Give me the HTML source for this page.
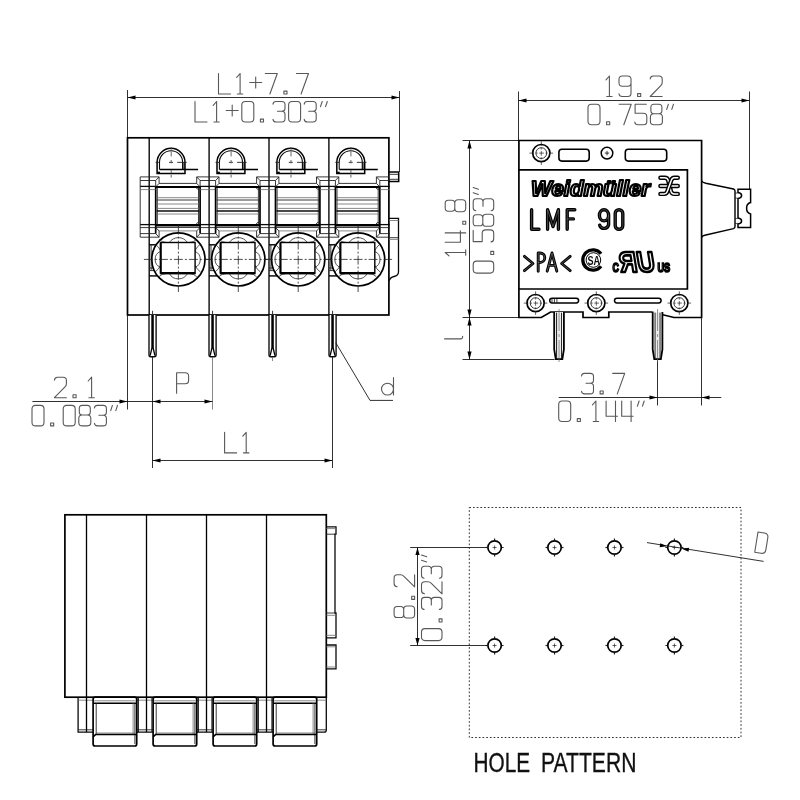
<!DOCTYPE html>
<html lang="en"><head><meta charset="utf-8"><title>LMF 90 dimensional drawing</title>
<style>
html,body{margin:0;padding:0;background:#fff;}
body{width:800px;height:800px;overflow:hidden;font-family:"Liberation Sans",sans-serif;}
svg{display:block;}
path,rect,circle,ellipse{fill:none;stroke-linecap:butt;stroke-linejoin:miter;}
.k{stroke:#000;stroke-width:1.7;}
.m{stroke:#0a0a0a;stroke-width:1.3;}
.t{stroke:#222;stroke-width:0.9;}
.g{stroke:#6a6a6a;stroke-width:0.8;}
.d{stroke:#1a1a1a;stroke-width:0.9;}
.cl{stroke:#222;stroke-width:0.8;stroke-dasharray:7 1.5 1.5 1.5;}
.dot{stroke:#333;stroke-width:1;stroke-dasharray:1.7 2;}
.tx path{stroke:#585858;stroke-width:1.1;stroke-linecap:round;stroke-linejoin:round;}
.ar{fill:#000;stroke:none;}
.ob path{stroke:#000;stroke-width:3;stroke-linecap:round;stroke-linejoin:round;}
.ow path{stroke:#fff;stroke-width:0.9;stroke-linecap:round;stroke-linejoin:round;}
.wf{fill:#fff;}
text{font-family:"Liberation Sans",sans-serif;}
svg{will-change:transform;}
</style></head>
<body>
<svg width="800" height="800" viewBox="0 0 800 800">
<g id="front-view">
<path class="d" d="M127.50,90.00L127.50,137.80"/>
<path class="d" d="M399.50,91.00L399.50,172.00"/>
<path class="d" d="M127.50,97.50L399.50,97.50"/>
<path class="ar" d="M127.50,97.50L135.50,95.40L135.50,99.60Z"/>
<path class="ar" d="M399.50,97.50L391.50,99.60L391.50,95.40Z"/>
<g class="tx" transform="translate(218.50,73.50) rotate(0.00)"><title>L1+7.7</title>
<path transform="translate(0.00,0)" d="M0,0V20.5H12"/>
<path transform="translate(15.60,0)" d="M2.6,3.8L6,0V20.5M3.3,20.5H8.7"/>
<path transform="translate(31.20,0)" d="M0,9H12M6,3.5V14.5"/>
<path transform="translate(46.80,0)" d="M0,0H12L4.6,20.5"/>
<path transform="translate(62.40,0)" d="M3,17.6h3.1v2.9h-3.1z"/>
<path transform="translate(78.00,0)" d="M0,0H12L4.6,20.5"/>
</g>
<g class="tx" transform="translate(195.00,101.50) rotate(0.00)"><title>L1+0.303&quot;</title>
<path transform="translate(0.00,0)" d="M0,0V20.5H12"/>
<path transform="translate(15.60,0)" d="M2.6,3.8L6,0V20.5M3.3,20.5H8.7"/>
<path transform="translate(31.20,0)" d="M0,9H12M6,3.5V14.5"/>
<path transform="translate(46.80,0)" d="M3.5,0H8.5Q12,0 12,3.5V17Q12,20.5 8.5,20.5H3.5Q0,20.5 0,17V3.5Q0,0 3.5,0Z"/>
<path transform="translate(62.40,0)" d="M3,17.6h3.1v2.9h-3.1z"/>
<path transform="translate(78.00,0)" d="M0,2.6Q0.3,0 3,0H8.8Q12,0 12,3V6.8Q12,9.8 8.8,9.8H4.5M8.8,9.8Q12,9.8 12,13V17.3Q12,20.5 8.8,20.5H3Q0.3,20.5 0,17.9"/>
<path transform="translate(93.60,0)" d="M3.5,0H8.5Q12,0 12,3.5V17Q12,20.5 8.5,20.5H3.5Q0,20.5 0,17V3.5Q0,0 3.5,0Z"/>
<path transform="translate(109.20,0)" d="M0,2.6Q0.3,0 3,0H8.8Q12,0 12,3V6.8Q12,9.8 8.8,9.8H4.5M8.8,9.8Q12,9.8 12,13V17.3Q12,20.5 8.8,20.5H3Q0.3,20.5 0,17.9"/>
<path transform="translate(124.80,0)" d="M2.4,0L0.7,5.2M7.5,0L5.8,5.2"/>
</g>
<rect class="k" x="127.50" y="137.80" width="261.40" height="177.20" rx="0"/>
<path class="k" style="stroke-width:1.35" d="M149.20,137.80L149.20,315.00"/>
<path class="k" style="stroke-width:1.35" d="M209.10,137.80L209.10,315.00"/>
<path class="k" style="stroke-width:1.35" d="M269.00,137.80L269.00,315.00"/>
<path class="k" style="stroke-width:1.35" d="M328.90,137.80L328.90,315.00"/>
<path class="k" style="stroke-width:1.5" d="M388.9,171.9H398.7V181.4H388.9" />
<path class="t" d="M388.90,174.30L398.20,174.30"/>
<path class="t" d="M388.90,179.30L398.20,179.30"/>
<path class="m" d="M388.9,218.3H398.5V272Q398.5,275.5 394,276.5Q390,277.5 388.9,281" />
<path class="g" d="M388.90,220.50L398.50,220.50"/>
<path class="t" d="M388.90,237.70L398.50,237.70"/>
<path class="g" d="M388.90,239.40L398.50,239.40"/>
<path class="t" d="M140.20,176.90L140.20,237.20"/>
<rect x="182.20" y="162.5" width="2.6" height="7" style="fill:#777;stroke:none"/>
<path class="k" style="stroke-width:1.5" d="M157.10,173.5V162.3A13.95,13.95 0 0 1 185.00,162.3V173.5Z" />
<path class="m" style="stroke-width:1.1" d="M159.50,169.5V162.3A11.55,11.55 0 0 1 182.60,162.3V169.5" />
<path class="k" style="stroke-width:2.2" d="M157.40,172.80L160.00,172.80"/>
<path class="k" style="stroke-width:1.4" d="M159.60,169.50L198.10,169.50"/>
<path class="cl" style="stroke-dasharray:4.2 9.2 4 4.2 9.4 0;stroke-width:0.9" d="M155.60,162.35L186.80,162.35"/>
<path class="cl" style="stroke-dasharray:2.8 1.6 5 3.6 3.4 6.6 3.4 1.2 3 0;stroke:#555;stroke-width:0.9" d="M171.20,147.00L171.20,177.60"/>
<path class="k" d="M155.70,186.90L155.70,233.60"/>
<path class="k" d="M200.10,186.90L200.10,233.60"/>
<path class="t" d="M155.70,180.50L155.70,186.90"/>
<path class="t" d="M200.10,180.50L200.10,186.90"/>
<path class="k" style="stroke-width:2" d="M155.70,186.90L200.10,186.90"/>
<path class="k" style="stroke-width:2" d="M155.70,225.00L200.10,225.00"/>
<path class="m" d="M155.70,227.20L200.10,227.20"/>
<path class="t" d="M159.10,183.40L196.70,183.40"/>
<path class="t" d="M155.70,180.5L159.10,176.9V183.4L155.70,186.9" />
<path class="t" d="M200.10,180.5L196.70,176.9V183.4L200.10,186.9" />
<path class="g" d="M159.10,230.90L196.70,230.90"/>
<path class="t" d="M155.70,233.6L159.10,237.2V231L155.70,227.4" />
<path class="t" d="M200.10,233.6L196.70,237.2V231L200.10,227.4" />
<path class="t" d="M200.10,180.50L215.60,180.50"/>
<path class="m" d="M200.10,186.40L215.60,186.40"/>
<path class="g" d="M200.10,189.60L215.60,189.60"/>
<path class="m" d="M200.10,224.60L215.60,224.60"/>
<path class="t" d="M200.10,227.60L215.60,227.60"/>
<path class="t" d="M200.10,233.60L215.60,233.60"/>
<path class="t" d="M196.70,176.90L219.00,176.90"/>
<path class="t" d="M196.70,237.20L219.00,237.20"/>
<path class="t" d="M140.20,180.50L155.70,180.50"/>
<path class="m" d="M140.20,186.40L155.70,186.40"/>
<path class="g" d="M140.20,189.60L155.70,189.60"/>
<path class="m" d="M140.20,224.60L155.70,224.60"/>
<path class="t" d="M140.20,227.60L155.70,227.60"/>
<path class="t" d="M140.20,233.60L155.70,233.60"/>
<path class="t" d="M140.20,176.90L159.10,176.90"/>
<path class="t" d="M140.20,237.20L159.10,237.20"/>
<path class="t" d="M157.30,187.50L157.30,224.50"/>
<path class="t" d="M198.50,187.50L198.50,224.50"/>
<path class="g" d="M156.70,197.70L199.10,197.70"/>
<path class="t" d="M156.70,200.00L199.10,200.00"/>
<path class="g" d="M156.70,204.00L199.10,204.00"/>
<path class="g" d="M156.70,208.40L199.10,208.40"/>
<path class="m" d="M156.70,211.00L199.10,211.00"/>
<path class="g" d="M156.70,214.00L199.10,214.00"/>
<path class="t" d="M196.10,187.6L197.50,189.2H199.30" />
<path class="t" d="M196.10,224.4L197.50,222.6H199.30" />
<path class="k" style="stroke-width:1.4" d="M149.20,244.80L155.70,244.80"/>
<path class="t" d="M151.10,244.80L151.10,270.50"/>
<path class="t" d="M149.20,268.00L154.20,268.00"/>
<path class="t" d="M149.20,270.60L155.20,270.60"/>
<path class="k" style="stroke-width:1.4" d="M149.20,275.90L157.54,275.90"/>
<circle class="k wf" cx="178.40" cy="259.4" r="26.6"/>
<path class="t" style="stroke-width:0.8;stroke:#2a2a2a" d="M169.30,242.50A10.90,10.90 0 0 1 187.50,242.50" />
<path class="t" style="stroke-width:0.8;stroke:#2a2a2a" d="M169.30,273.50A10.37,10.37 0 0 0 187.50,273.50" />
<path class="t" style="stroke-width:0.8;stroke:#2a2a2a" d="M160.50,251.40A8.63,8.63 0 0 0 160.50,267.40" />
<path class="t" style="stroke-width:0.8;stroke:#2a2a2a" d="M195.10,251.40A8.75,8.75 0 0 1 195.10,267.40" />
<path class="t" style="stroke-width:0.8;stroke:#2a2a2a" d="M158.90,239.30Q162.00,242.50 166.50,242.50M155.10,244.00Q159.00,247.00 160.50,250.50" />
<path class="t" style="stroke-width:0.8;stroke:#2a2a2a" d="M158.90,276.70Q162.00,273.50 166.50,273.50M155.10,272.00Q159.00,269.00 160.50,265.50" />
<path class="t" style="stroke-width:0.8;stroke:#2a2a2a" d="M196.70,239.30Q193.60,242.50 189.10,242.50M200.50,244.00Q196.60,247.00 195.10,250.50" />
<path class="t" style="stroke-width:0.8;stroke:#2a2a2a" d="M196.70,276.70Q193.60,273.50 189.10,273.50M200.50,272.00Q196.60,269.00 195.10,265.50" />
<rect class="k" style="stroke-width:1.4" x="160.50" y="242.50" width="34.60" height="31.00" rx="0"/>
<path class="k" style="stroke-width:2.2" d="M160.50,273.20L195.10,273.20"/>
<path class="k" style="stroke-width:1.9" d="M160.80,243.00L160.80,273.00"/>
<path class="cl" style="stroke-dasharray:9 2 2 2" d="M143.90,259.40L212.40,259.40"/>
<path class="cl" style="stroke-dasharray:9 2 2 2" d="M178.40,225.60L178.40,292.00"/>
<path class="wf" style="stroke:#0a0a0a;stroke-width:1.35" d="M149.00,315.0V354.8Q149.00,356.7 150.75,356.7H154.35Q156.10,356.7 156.10,354.8V315.0"/>
<path class="k" style="stroke-width:2.5" d="M152.55,315.00L152.55,348.60"/>
<path class="k" style="stroke-width:1.3" d="M151.95,348L150.15,355.6M153.15,348L154.95,355.6" />
<path class="t" d="M152.55,310.80L152.55,315.00"/>
<rect x="242.10" y="162.5" width="2.6" height="7" style="fill:#777;stroke:none"/>
<path class="k" style="stroke-width:1.5" d="M217.00,173.5V162.3A13.95,13.95 0 0 1 244.90,162.3V173.5Z" />
<path class="m" style="stroke-width:1.1" d="M219.40,169.5V162.3A11.55,11.55 0 0 1 242.50,162.3V169.5" />
<path class="k" style="stroke-width:2.2" d="M217.30,172.80L219.90,172.80"/>
<path class="k" style="stroke-width:1.4" d="M219.50,169.50L258.00,169.50"/>
<path class="cl" style="stroke-dasharray:4.2 9.2 4 4.2 9.4 0;stroke-width:0.9" d="M215.50,162.35L246.70,162.35"/>
<path class="cl" style="stroke-dasharray:2.8 1.6 5 3.6 3.4 6.6 3.4 1.2 3 0;stroke:#555;stroke-width:0.9" d="M231.10,147.00L231.10,177.60"/>
<path class="k" d="M215.60,186.90L215.60,233.60"/>
<path class="k" d="M260.00,186.90L260.00,233.60"/>
<path class="t" d="M215.60,180.50L215.60,186.90"/>
<path class="t" d="M260.00,180.50L260.00,186.90"/>
<path class="k" style="stroke-width:2" d="M215.60,186.90L260.00,186.90"/>
<path class="k" style="stroke-width:2" d="M215.60,225.00L260.00,225.00"/>
<path class="m" d="M215.60,227.20L260.00,227.20"/>
<path class="t" d="M219.00,183.40L256.60,183.40"/>
<path class="t" d="M215.60,180.5L219.00,176.9V183.4L215.60,186.9" />
<path class="t" d="M260.00,180.5L256.60,176.9V183.4L260.00,186.9" />
<path class="g" d="M219.00,230.90L256.60,230.90"/>
<path class="t" d="M215.60,233.6L219.00,237.2V231L215.60,227.4" />
<path class="t" d="M260.00,233.6L256.60,237.2V231L260.00,227.4" />
<path class="t" d="M260.00,180.50L275.50,180.50"/>
<path class="m" d="M260.00,186.40L275.50,186.40"/>
<path class="g" d="M260.00,189.60L275.50,189.60"/>
<path class="m" d="M260.00,224.60L275.50,224.60"/>
<path class="t" d="M260.00,227.60L275.50,227.60"/>
<path class="t" d="M260.00,233.60L275.50,233.60"/>
<path class="t" d="M256.60,176.90L278.90,176.90"/>
<path class="t" d="M256.60,237.20L278.90,237.20"/>
<path class="t" d="M217.20,187.50L217.20,224.50"/>
<path class="t" d="M258.40,187.50L258.40,224.50"/>
<path class="g" d="M216.60,197.70L259.00,197.70"/>
<path class="t" d="M216.60,200.00L259.00,200.00"/>
<path class="g" d="M216.60,204.00L259.00,204.00"/>
<path class="g" d="M216.60,208.40L259.00,208.40"/>
<path class="m" d="M216.60,211.00L259.00,211.00"/>
<path class="g" d="M216.60,214.00L259.00,214.00"/>
<path class="t" d="M256.00,187.6L257.40,189.2H259.20" />
<path class="t" d="M256.00,224.4L257.40,222.6H259.20" />
<path class="k" style="stroke-width:1.4" d="M209.10,244.80L215.60,244.80"/>
<path class="t" d="M211.00,244.80L211.00,270.50"/>
<path class="t" d="M209.10,268.00L214.10,268.00"/>
<path class="t" d="M209.10,270.60L215.10,270.60"/>
<path class="k" style="stroke-width:1.4" d="M209.10,275.90L217.44,275.90"/>
<circle class="k wf" cx="238.30" cy="259.4" r="26.6"/>
<path class="t" style="stroke-width:0.8;stroke:#2a2a2a" d="M229.20,242.50A10.90,10.90 0 0 1 247.40,242.50" />
<path class="t" style="stroke-width:0.8;stroke:#2a2a2a" d="M229.20,273.50A10.37,10.37 0 0 0 247.40,273.50" />
<path class="t" style="stroke-width:0.8;stroke:#2a2a2a" d="M220.40,251.40A8.63,8.63 0 0 0 220.40,267.40" />
<path class="t" style="stroke-width:0.8;stroke:#2a2a2a" d="M255.00,251.40A8.75,8.75 0 0 1 255.00,267.40" />
<path class="t" style="stroke-width:0.8;stroke:#2a2a2a" d="M218.80,239.30Q221.90,242.50 226.40,242.50M215.00,244.00Q218.90,247.00 220.40,250.50" />
<path class="t" style="stroke-width:0.8;stroke:#2a2a2a" d="M218.80,276.70Q221.90,273.50 226.40,273.50M215.00,272.00Q218.90,269.00 220.40,265.50" />
<path class="t" style="stroke-width:0.8;stroke:#2a2a2a" d="M256.60,239.30Q253.50,242.50 249.00,242.50M260.40,244.00Q256.50,247.00 255.00,250.50" />
<path class="t" style="stroke-width:0.8;stroke:#2a2a2a" d="M256.60,276.70Q253.50,273.50 249.00,273.50M260.40,272.00Q256.50,269.00 255.00,265.50" />
<rect class="k" style="stroke-width:1.4" x="220.40" y="242.50" width="34.60" height="31.00" rx="0"/>
<path class="k" style="stroke-width:2.2" d="M220.40,273.20L255.00,273.20"/>
<path class="k" style="stroke-width:1.9" d="M220.70,243.00L220.70,273.00"/>
<path class="cl" style="stroke-dasharray:9 2 2 2" d="M203.80,259.40L272.30,259.40"/>
<path class="cl" style="stroke-dasharray:9 2 2 2" d="M238.30,225.60L238.30,292.00"/>
<path class="wf" style="stroke:#0a0a0a;stroke-width:1.35" d="M209.00,315.0V354.8Q209.00,356.7 210.75,356.7H214.35Q216.10,356.7 216.10,354.8V315.0"/>
<path class="k" style="stroke-width:2.5" d="M212.55,315.00L212.55,348.60"/>
<path class="k" style="stroke-width:1.3" d="M211.95,348L210.15,355.6M213.15,348L214.95,355.6" />
<path class="t" d="M212.55,310.80L212.55,315.00"/>
<rect x="302.00" y="162.5" width="2.6" height="7" style="fill:#777;stroke:none"/>
<path class="k" style="stroke-width:1.5" d="M276.90,173.5V162.3A13.95,13.95 0 0 1 304.80,162.3V173.5Z" />
<path class="m" style="stroke-width:1.1" d="M279.30,169.5V162.3A11.55,11.55 0 0 1 302.40,162.3V169.5" />
<path class="k" style="stroke-width:2.2" d="M277.20,172.80L279.80,172.80"/>
<path class="k" style="stroke-width:1.4" d="M279.40,169.50L317.90,169.50"/>
<path class="cl" style="stroke-dasharray:4.2 9.2 4 4.2 9.4 0;stroke-width:0.9" d="M275.40,162.35L306.60,162.35"/>
<path class="cl" style="stroke-dasharray:2.8 1.6 5 3.6 3.4 6.6 3.4 1.2 3 0;stroke:#555;stroke-width:0.9" d="M291.00,147.00L291.00,177.60"/>
<path class="k" d="M275.50,186.90L275.50,233.60"/>
<path class="k" d="M319.90,186.90L319.90,233.60"/>
<path class="t" d="M275.50,180.50L275.50,186.90"/>
<path class="t" d="M319.90,180.50L319.90,186.90"/>
<path class="k" style="stroke-width:2" d="M275.50,186.90L319.90,186.90"/>
<path class="k" style="stroke-width:2" d="M275.50,225.00L319.90,225.00"/>
<path class="m" d="M275.50,227.20L319.90,227.20"/>
<path class="t" d="M278.90,183.40L316.50,183.40"/>
<path class="t" d="M275.50,180.5L278.90,176.9V183.4L275.50,186.9" />
<path class="t" d="M319.90,180.5L316.50,176.9V183.4L319.90,186.9" />
<path class="g" d="M278.90,230.90L316.50,230.90"/>
<path class="t" d="M275.50,233.6L278.90,237.2V231L275.50,227.4" />
<path class="t" d="M319.90,233.6L316.50,237.2V231L319.90,227.4" />
<path class="t" d="M319.90,180.50L335.40,180.50"/>
<path class="m" d="M319.90,186.40L335.40,186.40"/>
<path class="g" d="M319.90,189.60L335.40,189.60"/>
<path class="m" d="M319.90,224.60L335.40,224.60"/>
<path class="t" d="M319.90,227.60L335.40,227.60"/>
<path class="t" d="M319.90,233.60L335.40,233.60"/>
<path class="t" d="M316.50,176.90L338.80,176.90"/>
<path class="t" d="M316.50,237.20L338.80,237.20"/>
<path class="t" d="M277.10,187.50L277.10,224.50"/>
<path class="t" d="M318.30,187.50L318.30,224.50"/>
<path class="g" d="M276.50,197.70L318.90,197.70"/>
<path class="t" d="M276.50,200.00L318.90,200.00"/>
<path class="g" d="M276.50,204.00L318.90,204.00"/>
<path class="g" d="M276.50,208.40L318.90,208.40"/>
<path class="m" d="M276.50,211.00L318.90,211.00"/>
<path class="g" d="M276.50,214.00L318.90,214.00"/>
<path class="t" d="M315.90,187.6L317.30,189.2H319.10" />
<path class="t" d="M315.90,224.4L317.30,222.6H319.10" />
<path class="k" style="stroke-width:1.4" d="M269.00,244.80L275.50,244.80"/>
<path class="t" d="M270.90,244.80L270.90,270.50"/>
<path class="t" d="M269.00,268.00L274.00,268.00"/>
<path class="t" d="M269.00,270.60L275.00,270.60"/>
<path class="k" style="stroke-width:1.4" d="M269.00,275.90L277.34,275.90"/>
<circle class="k wf" cx="298.20" cy="259.4" r="26.6"/>
<path class="t" style="stroke-width:0.8;stroke:#2a2a2a" d="M289.10,242.50A10.90,10.90 0 0 1 307.30,242.50" />
<path class="t" style="stroke-width:0.8;stroke:#2a2a2a" d="M289.10,273.50A10.37,10.37 0 0 0 307.30,273.50" />
<path class="t" style="stroke-width:0.8;stroke:#2a2a2a" d="M280.30,251.40A8.63,8.63 0 0 0 280.30,267.40" />
<path class="t" style="stroke-width:0.8;stroke:#2a2a2a" d="M314.90,251.40A8.75,8.75 0 0 1 314.90,267.40" />
<path class="t" style="stroke-width:0.8;stroke:#2a2a2a" d="M278.70,239.30Q281.80,242.50 286.30,242.50M274.90,244.00Q278.80,247.00 280.30,250.50" />
<path class="t" style="stroke-width:0.8;stroke:#2a2a2a" d="M278.70,276.70Q281.80,273.50 286.30,273.50M274.90,272.00Q278.80,269.00 280.30,265.50" />
<path class="t" style="stroke-width:0.8;stroke:#2a2a2a" d="M316.50,239.30Q313.40,242.50 308.90,242.50M320.30,244.00Q316.40,247.00 314.90,250.50" />
<path class="t" style="stroke-width:0.8;stroke:#2a2a2a" d="M316.50,276.70Q313.40,273.50 308.90,273.50M320.30,272.00Q316.40,269.00 314.90,265.50" />
<rect class="k" style="stroke-width:1.4" x="280.30" y="242.50" width="34.60" height="31.00" rx="0"/>
<path class="k" style="stroke-width:2.2" d="M280.30,273.20L314.90,273.20"/>
<path class="k" style="stroke-width:1.9" d="M280.60,243.00L280.60,273.00"/>
<path class="cl" style="stroke-dasharray:9 2 2 2" d="M263.70,259.40L332.20,259.40"/>
<path class="cl" style="stroke-dasharray:9 2 2 2" d="M298.20,225.60L298.20,292.00"/>
<path class="wf" style="stroke:#0a0a0a;stroke-width:1.35" d="M269.00,315.0V354.8Q269.00,356.7 270.75,356.7H274.35Q276.10,356.7 276.10,354.8V315.0"/>
<path class="k" style="stroke-width:2.5" d="M272.55,315.00L272.55,348.60"/>
<path class="k" style="stroke-width:1.3" d="M271.95,348L270.15,355.6M273.15,348L274.95,355.6" />
<path class="t" d="M272.55,310.80L272.55,315.00"/>
<rect x="361.90" y="162.5" width="2.6" height="7" style="fill:#777;stroke:none"/>
<path class="k" style="stroke-width:1.5" d="M336.80,173.5V162.3A13.95,13.95 0 0 1 364.70,162.3V173.5Z" />
<path class="m" style="stroke-width:1.1" d="M339.20,169.5V162.3A11.55,11.55 0 0 1 362.30,162.3V169.5" />
<path class="k" style="stroke-width:2.2" d="M337.10,172.80L339.70,172.80"/>
<path class="k" style="stroke-width:1.4" d="M339.30,169.50L377.80,169.50"/>
<path class="cl" style="stroke-dasharray:4.2 9.2 4 4.2 9.4 0;stroke-width:0.9" d="M335.30,162.35L366.50,162.35"/>
<path class="cl" style="stroke-dasharray:2.8 1.6 5 3.6 3.4 6.6 3.4 1.2 3 0;stroke:#555;stroke-width:0.9" d="M350.90,147.00L350.90,177.60"/>
<path class="k" d="M335.40,186.90L335.40,233.60"/>
<path class="k" d="M379.80,186.90L379.80,233.60"/>
<path class="t" d="M335.40,180.50L335.40,186.90"/>
<path class="t" d="M379.80,180.50L379.80,186.90"/>
<path class="k" style="stroke-width:2" d="M335.40,186.90L379.80,186.90"/>
<path class="k" style="stroke-width:2" d="M335.40,225.00L379.80,225.00"/>
<path class="m" d="M335.40,227.20L379.80,227.20"/>
<path class="t" d="M338.80,183.40L376.40,183.40"/>
<path class="t" d="M335.40,180.5L338.80,176.9V183.4L335.40,186.9" />
<path class="t" d="M379.80,180.5L376.40,176.9V183.4L379.80,186.9" />
<path class="g" d="M338.80,230.90L376.40,230.90"/>
<path class="t" d="M335.40,233.6L338.80,237.2V231L335.40,227.4" />
<path class="t" d="M379.80,233.6L376.40,237.2V231L379.80,227.4" />
<path class="t" d="M379.80,180.50L389.80,180.50"/>
<path class="m" d="M379.80,186.40L389.80,186.40"/>
<path class="g" d="M379.80,189.60L389.80,189.60"/>
<path class="m" d="M379.80,224.60L389.80,224.60"/>
<path class="t" d="M379.80,227.60L389.80,227.60"/>
<path class="t" d="M379.80,233.60L389.80,233.60"/>
<path class="t" d="M376.40,176.90L388.90,176.90"/>
<path class="t" d="M376.40,237.20L388.90,237.20"/>
<path class="t" d="M337.00,187.50L337.00,224.50"/>
<path class="t" d="M378.20,187.50L378.20,224.50"/>
<path class="g" d="M336.40,197.70L378.80,197.70"/>
<path class="t" d="M336.40,200.00L378.80,200.00"/>
<path class="g" d="M336.40,204.00L378.80,204.00"/>
<path class="g" d="M336.40,208.40L378.80,208.40"/>
<path class="m" d="M336.40,211.00L378.80,211.00"/>
<path class="g" d="M336.40,214.00L378.80,214.00"/>
<path class="t" d="M375.80,187.6L377.20,189.2H379.00" />
<path class="t" d="M375.80,224.4L377.20,222.6H379.00" />
<path class="k" style="stroke-width:1.4" d="M328.90,244.80L335.40,244.80"/>
<path class="t" d="M330.80,244.80L330.80,270.50"/>
<path class="t" d="M328.90,268.00L333.90,268.00"/>
<path class="t" d="M328.90,270.60L334.90,270.60"/>
<path class="k" style="stroke-width:1.4" d="M328.90,275.90L337.24,275.90"/>
<circle class="k wf" cx="358.10" cy="259.4" r="26.6"/>
<path class="t" style="stroke-width:0.8;stroke:#2a2a2a" d="M349.00,242.50A10.90,10.90 0 0 1 367.20,242.50" />
<path class="t" style="stroke-width:0.8;stroke:#2a2a2a" d="M349.00,273.50A10.37,10.37 0 0 0 367.20,273.50" />
<path class="t" style="stroke-width:0.8;stroke:#2a2a2a" d="M340.20,251.40A8.63,8.63 0 0 0 340.20,267.40" />
<path class="t" style="stroke-width:0.8;stroke:#2a2a2a" d="M374.80,251.40A8.75,8.75 0 0 1 374.80,267.40" />
<path class="t" style="stroke-width:0.8;stroke:#2a2a2a" d="M338.60,239.30Q341.70,242.50 346.20,242.50M334.80,244.00Q338.70,247.00 340.20,250.50" />
<path class="t" style="stroke-width:0.8;stroke:#2a2a2a" d="M338.60,276.70Q341.70,273.50 346.20,273.50M334.80,272.00Q338.70,269.00 340.20,265.50" />
<path class="t" style="stroke-width:0.8;stroke:#2a2a2a" d="M376.40,239.30Q373.30,242.50 368.80,242.50M380.20,244.00Q376.30,247.00 374.80,250.50" />
<path class="t" style="stroke-width:0.8;stroke:#2a2a2a" d="M376.40,276.70Q373.30,273.50 368.80,273.50M380.20,272.00Q376.30,269.00 374.80,265.50" />
<rect class="k" style="stroke-width:1.4" x="340.20" y="242.50" width="34.60" height="31.00" rx="0"/>
<path class="k" style="stroke-width:2.2" d="M340.20,273.20L374.80,273.20"/>
<path class="k" style="stroke-width:1.9" d="M340.50,243.00L340.50,273.00"/>
<path class="cl" style="stroke-dasharray:9 2 2 2" d="M323.60,259.40L392.10,259.40"/>
<path class="cl" style="stroke-dasharray:9 2 2 2" d="M358.10,225.60L358.10,292.00"/>
<path class="wf" style="stroke:#0a0a0a;stroke-width:1.35" d="M329.00,315.0V354.8Q329.00,356.7 330.75,356.7H334.35Q336.10,356.7 336.10,354.8V315.0"/>
<path class="k" style="stroke-width:2.5" d="M332.55,315.00L332.55,348.60"/>
<path class="k" style="stroke-width:1.3" d="M331.95,348L330.15,355.6M333.15,348L334.95,355.6" />
<path class="t" d="M332.55,310.80L332.55,315.00"/>
<path class="d" d="M127.50,315.00L127.50,409.50"/>
<path class="d" d="M152.50,357.00L152.50,468.00"/>
<path class="g" d="M212.50,357.00L212.50,409.50"/>
<path class="g" d="M272.50,357.00L272.50,361.00"/>
<path class="d" d="M332.50,357.00L332.50,468.00"/>
<path class="d" d="M32.40,401.50L212.50,401.50"/>
<path class="ar" d="M127.50,401.50L119.50,403.60L119.50,399.40Z"/>
<path class="ar" d="M152.50,401.50L160.50,399.40L160.50,403.60Z"/>
<path class="ar" d="M212.50,401.50L204.50,403.60L204.50,399.40Z"/>
<g class="tx" transform="translate(54.40,377.20) rotate(0.00)"><title>2.1</title>
<path transform="translate(0.00,0)" d="M0,3Q0.3,0 3.2,0H8.8Q12,0 12,3.2V6.5Q12,8.3 10.6,9.6L0,20.5H12"/>
<path transform="translate(15.60,0)" d="M3,17.6h3.1v2.9h-3.1z"/>
<path transform="translate(31.20,0)" d="M2.6,3.8L6,0V20.5M3.3,20.5H8.7"/>
</g>
<g class="tx" transform="translate(32.00,405.40) rotate(0.00)"><title>0.083&quot;</title>
<path transform="translate(0.00,0)" d="M3.5,0H8.5Q12,0 12,3.5V17Q12,20.5 8.5,20.5H3.5Q0,20.5 0,17V3.5Q0,0 3.5,0Z"/>
<path transform="translate(15.60,0)" d="M3,17.6h3.1v2.9h-3.1z"/>
<path transform="translate(31.20,0)" d="M3.5,0H8.5Q12,0 12,3.5V17Q12,20.5 8.5,20.5H3.5Q0,20.5 0,17V3.5Q0,0 3.5,0Z"/>
<path transform="translate(46.80,0)" d="M3.6,0H8.4Q11.5,0 11.5,3V6.6Q11.5,9.6 8.4,9.6H3.6Q0.5,9.6 0.5,6.6V3Q0.5,0 3.6,0ZM3.4,9.6H8.6Q12,9.6 12,12.9V17.2Q12,20.5 8.6,20.5H3.4Q0,20.5 0,17.2V12.9Q0,9.6 3.4,9.6Z"/>
<path transform="translate(62.40,0)" d="M0,2.6Q0.3,0 3,0H8.8Q12,0 12,3V6.8Q12,9.8 8.8,9.8H4.5M8.8,9.8Q12,9.8 12,13V17.3Q12,20.5 8.8,20.5H3Q0.3,20.5 0,17.9"/>
<path transform="translate(78.00,0)" d="M2.4,0L0.7,5.2M7.5,0L5.8,5.2"/>
</g>
<g class="tx" transform="translate(176.60,372.80) rotate(0.00)"><title>P</title>
<path transform="translate(0.00,0)" d="M0,20.5V0H8.6Q12,0 12,3.3V7.6Q12,10.9 8.6,10.9H0"/>
</g>
<path class="d" d="M152.50,460.50L332.50,460.50"/>
<path class="ar" d="M152.50,460.50L160.50,458.40L160.50,462.60Z"/>
<path class="ar" d="M332.50,460.50L324.50,462.60L324.50,458.40Z"/>
<g class="tx" transform="translate(224.60,432.40) rotate(0.00)"><title>L1</title>
<path transform="translate(0.00,0)" d="M0,0V20.5H12"/>
<path transform="translate(15.60,0)" d="M2.6,3.8L6,0V20.5M3.3,20.5H8.7"/>
</g>
<path class="d" d="M335.8,342.8L370,400.4H393" />
<g class="tx" transform="translate(381.5,377.5)"><title>d</title><path d="M12,0V17.5M12,11.6A6,5.9 0 1 1 0,11.6A6,5.9 0 1 1 12,11.6"/></g>
</g>
<g id="side-view">
<path class="d" d="M518.50,91.50L518.50,140.50"/>
<path class="d" d="M749.50,91.50L749.50,189.50"/>
<path class="d" d="M518.50,100.50L749.50,100.50"/>
<path class="ar" d="M518.50,100.50L526.50,98.40L526.50,102.60Z"/>
<path class="ar" d="M749.50,100.50L741.50,102.60L741.50,98.40Z"/>
<g class="tx" transform="translate(603.40,76.00) rotate(0.00)"><title>19.2</title>
<path transform="translate(0.00,0)" d="M2.6,3.8L6,0V20.5M3.3,20.5H8.7"/>
<path transform="translate(15.60,0)" d="M12,7Q12,10.2 8.7,10.2H3.3Q0,10.2 0,7V3.3Q0,0 3.3,0H8.7Q12,0 12,3.3V17.2Q12,20.5 8.7,20.5H3.2Q0.3,20.5 0,17.8"/>
<path transform="translate(31.20,0)" d="M3,17.6h3.1v2.9h-3.1z"/>
<path transform="translate(46.80,0)" d="M0,3Q0.3,0 3.2,0H8.8Q12,0 12,3.2V6.5Q12,8.3 10.6,9.6L0,20.5H12"/>
</g>
<g class="tx" transform="translate(588.00,104.20) rotate(0.00)"><title>0.758&quot;</title>
<path transform="translate(0.00,0)" d="M3.5,0H8.5Q12,0 12,3.5V17Q12,20.5 8.5,20.5H3.5Q0,20.5 0,17V3.5Q0,0 3.5,0Z"/>
<path transform="translate(15.60,0)" d="M3,17.6h3.1v2.9h-3.1z"/>
<path transform="translate(31.20,0)" d="M0,0H12L4.6,20.5"/>
<path transform="translate(46.80,0)" d="M11.5,0H0.3V9H8.6Q12,9 12,12.4V17.2Q12,20.5 8.6,20.5H3.2Q0.3,20.5 0,17.8"/>
<path transform="translate(62.40,0)" d="M3.6,0H8.4Q11.5,0 11.5,3V6.6Q11.5,9.6 8.4,9.6H3.6Q0.5,9.6 0.5,6.6V3Q0.5,0 3.6,0ZM3.4,9.6H8.6Q12,9.6 12,12.9V17.2Q12,20.5 8.6,20.5H3.4Q0,20.5 0,17.2V12.9Q0,9.6 3.4,9.6Z"/>
<path transform="translate(78.00,0)" d="M2.4,0L0.7,5.2M7.5,0L5.8,5.2"/>
</g>
<path class="d" d="M462.50,140.50L518.90,140.50"/>
<path class="d" d="M462.50,317.50L518.90,317.50"/>
<path class="d" d="M462.50,359.50L554.50,359.50"/>
<path class="d" d="M469.50,140.50L469.50,359.50"/>
<path class="ar" d="M469.50,140.50L471.60,148.50L467.40,148.50Z"/>
<path class="ar" d="M469.50,317.50L467.40,309.50L471.60,309.50Z"/>
<path class="ar" d="M469.50,317.50L471.60,325.50L467.40,325.50Z"/>
<path class="ar" d="M469.50,359.50L467.40,351.50L471.60,351.50Z"/>
<g class="tx" transform="translate(445.20,258.50) rotate(-90.00)"><title>14.8</title>
<path transform="translate(0.00,0)" d="M2.6,3.8L6,0V20.5M3.3,20.5H8.7"/>
<path transform="translate(15.60,0)" d="M0.6,0V15.2H12M10,0V20.5"/>
<path transform="translate(31.20,0)" d="M3,17.6h3.1v2.9h-3.1z"/>
<path transform="translate(46.80,0)" d="M3.6,0H8.4Q11.5,0 11.5,3V6.6Q11.5,9.6 8.4,9.6H3.6Q0.5,9.6 0.5,6.6V3Q0.5,0 3.6,0ZM3.4,9.6H8.6Q12,9.6 12,12.9V17.2Q12,20.5 8.6,20.5H3.4Q0,20.5 0,17.2V12.9Q0,9.6 3.4,9.6Z"/>
</g>
<g class="tx" transform="translate(473.20,273.10) rotate(-90.00)"><title>0.583&quot;</title>
<path transform="translate(0.00,0)" d="M3.5,0H8.5Q12,0 12,3.5V17Q12,20.5 8.5,20.5H3.5Q0,20.5 0,17V3.5Q0,0 3.5,0Z"/>
<path transform="translate(15.60,0)" d="M3,17.6h3.1v2.9h-3.1z"/>
<path transform="translate(31.20,0)" d="M11.5,0H0.3V9H8.6Q12,9 12,12.4V17.2Q12,20.5 8.6,20.5H3.2Q0.3,20.5 0,17.8"/>
<path transform="translate(46.80,0)" d="M3.6,0H8.4Q11.5,0 11.5,3V6.6Q11.5,9.6 8.4,9.6H3.6Q0.5,9.6 0.5,6.6V3Q0.5,0 3.6,0ZM3.4,9.6H8.6Q12,9.6 12,12.9V17.2Q12,20.5 8.6,20.5H3.4Q0,20.5 0,17.2V12.9Q0,9.6 3.4,9.6Z"/>
<path transform="translate(62.40,0)" d="M0,2.6Q0.3,0 3,0H8.8Q12,0 12,3V6.8Q12,9.8 8.8,9.8H4.5M8.8,9.8Q12,9.8 12,13V17.3Q12,20.5 8.8,20.5H3Q0.3,20.5 0,17.9"/>
<path transform="translate(78.00,0)" d="M2.4,0L0.7,5.2M7.5,0L5.8,5.2"/>
</g>
<g class="tx"><title>l</title><path d="M444.6,338.9H461Q462.6,338.9 462.6,337.3V336.2"/></g>
<path class="d" d="M657.50,360.00L657.50,405.50"/>
<path class="d" d="M701.50,317.50L701.50,405.50"/>
<path class="d" d="M558.70,397.50L721.30,397.50"/>
<path class="ar" d="M657.50,397.50L649.50,399.60L649.50,395.40Z"/>
<path class="ar" d="M701.50,397.50L709.50,395.40L709.50,399.60Z"/>
<g class="tx" transform="translate(581.50,373.40) rotate(0.00)"><title>3.7</title>
<path transform="translate(0.00,0)" d="M0,2.6Q0.3,0 3,0H8.8Q12,0 12,3V6.8Q12,9.8 8.8,9.8H4.5M8.8,9.8Q12,9.8 12,13V17.3Q12,20.5 8.8,20.5H3Q0.3,20.5 0,17.9"/>
<path transform="translate(15.60,0)" d="M3,17.6h3.1v2.9h-3.1z"/>
<path transform="translate(31.20,0)" d="M0,0H12L4.6,20.5"/>
</g>
<g class="tx" transform="translate(558.70,401.00) rotate(0.00)"><title>0.144&quot;</title>
<path transform="translate(0.00,0)" d="M3.5,0H8.5Q12,0 12,3.5V17Q12,20.5 8.5,20.5H3.5Q0,20.5 0,17V3.5Q0,0 3.5,0Z"/>
<path transform="translate(15.60,0)" d="M3,17.6h3.1v2.9h-3.1z"/>
<path transform="translate(31.20,0)" d="M2.6,3.8L6,0V20.5M3.3,20.5H8.7"/>
<path transform="translate(46.80,0)" d="M0.6,0V15.2H12M10,0V20.5"/>
<path transform="translate(62.40,0)" d="M0.6,0V15.2H12M10,0V20.5"/>
<path transform="translate(78.00,0)" d="M2.4,0L0.7,5.2M7.5,0L5.8,5.2"/>
</g>
<path class="k" d="M518.9,317.5V140.5H701.6V317.5H674L651.5,312.0H608.8V317.5H583V312.0H550.6L541.3,317.5Z" />
<path class="k" d="M518.9,169.8H687.4V289H518.9" />
<circle class="k" cx="541.30" cy="153.10" r="8.60"/>
<circle class="t" cx="541.30" cy="153.10" r="5.40"/>
<path class="cl" style="stroke-dasharray:4.6 1.6 2 1.6;stroke-width:0.7" d="M529.50,153.10L553.10,153.10"/>
<path class="cl" style="stroke-dasharray:4.6 1.6 2 1.6;stroke-width:0.7" d="M541.30,141.30L541.30,164.90"/>
<rect class="k" style="stroke-width:1.6" x="558.90" y="149.30" width="30.30" height="11.80" rx="3.0"/>
<circle class="k" style="stroke-width:1.5" cx="607.00" cy="153.10" r="5.80"/>
<path class="t" d="M604.80,153.10L609.20,153.10"/>
<path class="t" d="M607.00,150.90L607.00,155.30"/>
<rect class="k" style="stroke-width:1.6" x="625.30" y="149.30" width="41.40" height="11.80" rx="3.0"/>
<circle class="k" cx="535.60" cy="303.10" r="8.60"/>
<circle class="t" cx="535.60" cy="303.10" r="5.40"/>
<path class="cl" style="stroke-dasharray:4.6 1.6 2 1.6;stroke-width:0.7" d="M523.80,303.10L547.40,303.10"/>
<path class="cl" style="stroke-dasharray:4.6 1.6 2 1.6;stroke-width:0.7" d="M535.60,291.30L535.60,314.90"/>
<circle class="k" cx="596.30" cy="303.10" r="8.60"/>
<circle class="t" cx="596.30" cy="303.10" r="5.40"/>
<path class="cl" style="stroke-dasharray:4.6 1.6 2 1.6;stroke-width:0.7" d="M584.50,303.10L608.10,303.10"/>
<path class="cl" style="stroke-dasharray:4.6 1.6 2 1.6;stroke-width:0.7" d="M596.30,291.30L596.30,314.90"/>
<circle class="k" cx="679.30" cy="303.10" r="8.60"/>
<circle class="t" cx="679.30" cy="303.10" r="5.40"/>
<path class="cl" style="stroke-dasharray:4.6 1.6 2 1.6;stroke-width:0.7" d="M667.50,303.10L691.10,303.10"/>
<path class="cl" style="stroke-dasharray:4.6 1.6 2 1.6;stroke-width:0.7" d="M679.30,291.30L679.30,314.90"/>
<rect class="k" style="stroke-width:1.5" x="549.70" y="298.20" width="28.90" height="4.70" rx="2.35"/>
<path class="t" d="M552.00,298.40L552.00,302.70"/>
<path class="t" d="M554.40,298.40L554.40,302.70"/>
<path class="t" d="M556.90,298.40L556.90,302.70"/>
<rect class="k" style="stroke-width:1.5" x="614.50" y="298.20" width="46.60" height="4.70" rx="2.35"/>
<path class="wf" style="stroke:#000;stroke-width:1.8" d="M554.20,312.0V349.5L555.75,359H562.35L563.90,349.5V312.0"/>
<rect x="556.55" y="312.6" width="5" height="45.60" style="fill:#ececec;stroke:none"/>
<path class="t" style="stroke:#222;stroke-width:1" d="M556.55,312.60L556.55,358.40"/>
<path class="t" style="stroke:#222;stroke-width:1" d="M561.55,312.60L561.55,358.40"/>
<path class="cl" style="stroke-dasharray:22 3 3 3;stroke:#666;stroke-width:0.7" d="M559.05,309.00L559.05,365.00"/>
<path class="wf" style="stroke:#000;stroke-width:1.8" d="M652.70,312.0V349.5L654.25,359H660.85L662.40,349.5V312.0"/>
<rect x="655.05" y="312.6" width="5" height="45.60" style="fill:#ececec;stroke:none"/>
<path class="t" style="stroke:#222;stroke-width:1" d="M655.05,312.60L655.05,358.40"/>
<path class="t" style="stroke:#222;stroke-width:1" d="M660.05,312.60L660.05,358.40"/>
<path class="cl" style="stroke-dasharray:22 3 3 3;stroke:#666;stroke-width:0.7" d="M657.55,309.00L657.55,365.00"/>
<path class="k" style="stroke-width:1.4" d="M701.6,180.6Q702,182.3 705.8,183.2L733.5,189Q735,189.4 735,191V226.6Q735,228.2 733.5,228.6L705.8,235Q702,235.8 701.6,237.6" />
<path class="k" style="stroke-width:1.5" d="M738,189.3H750.6V202.6Q746.6,203.6 746.6,208.3Q746.6,213 750.6,214V227.4H738V224Q741.6,223.6 741.6,221Q741.6,218.4 738,218V198.6Q741.6,198.2 741.6,195.6Q741.6,193 738,192.6Z" />
<path class="t" d="M735,193.2Q736.6,193.2 738,192.6M735,198Q736.6,198 738,198.6M735,218.6Q736.6,218.6 738,218M735,223.4Q736.6,223.4 738,224" />
</g>
<g id="label">
<text x="531.0" y="196.0" font-size="21.6" font-weight="bold" font-style="italic" textLength="118.8" lengthAdjust="spacingAndGlyphs" fill="#fff" stroke="#000" stroke-width="2.2" stroke-linejoin="round">Weidmüller</text>
<g class="ob"><path d="M660.4,177.8H664.8Q667.4,177.8 668.2,180.4L669.6,186L671,191.4Q671.8,193.9 674.2,193.9H677.8" style="stroke-width:4.4"/><path d="M660.4,186H677.8" style="stroke-width:4.4"/></g>
<g class="ow"><path d="M660.4,177.8H664.8Q667.4,177.8 668.2,180.4L669.6,186L671,191.4Q671.8,193.9 674.2,193.9H677.8" style="stroke-width:1.5"/><path d="M660.4,186H677.8" style="stroke-width:1.5"/></g>
<g class="ob"><path d="M660.4,193.9H664.2Q666.6,193.9 667.3,191.4L671.3,180.3Q672.1,177.8 674.4,177.8H677.8" style="stroke-width:4.4"/></g>
<g class="ow"><path d="M660.4,193.9H664.2Q666.6,193.9 667.3,191.4L671.3,180.3Q672.1,177.8 674.4,177.8H677.8" style="stroke-width:1.5"/></g>
<g class="ob"><title>LMF 90</title><path d="M531.6,209.7V229.29999999999998H539.0" style="stroke-width:3.4"/><path d="M547.6,229.29999999999998V209.7L553.0,226.55599999999998L558.4,209.7V229.29999999999998" style="stroke-width:3.4"/><path d="M567.2,229.29999999999998V209.7H574.8000000000001M567.2,218.91199999999998H573.432" style="stroke-width:3.4"/><path d="M608.6,215.29999999999998A4.6,5.6 0 0 1 599.4,215.29999999999998A4.6,5.6 0 0 1 608.6,215.29999999999998V224.7A4.6,4.6 0 0 1 599.6999999999999,225.2" style="stroke-width:3.4"/><path d="M615.2,213.5A3.8,3.8 0 0 1 622.8000000000001,213.5V225.49999999999997A3.8,3.8 0 0 1 615.2,225.49999999999997Z" style="stroke-width:3.4"/></g>
<g class="ow"><path d="M531.6,209.7V229.29999999999998H539.0" style="stroke-width:0.45;stroke:#999"/><path d="M547.6,229.29999999999998V209.7L553.0,226.55599999999998L558.4,209.7V229.29999999999998" style="stroke-width:0.45;stroke:#999"/><path d="M567.2,229.29999999999998V209.7H574.8000000000001M567.2,218.91199999999998H573.432" style="stroke-width:0.45;stroke:#999"/><path d="M608.6,215.29999999999998A4.6,5.6 0 0 1 599.4,215.29999999999998A4.6,5.6 0 0 1 608.6,215.29999999999998V224.7A4.6,4.6 0 0 1 599.6999999999999,225.2" style="stroke-width:0.45;stroke:#999"/><path d="M615.2,213.5A3.8,3.8 0 0 1 622.8000000000001,213.5V225.49999999999997A3.8,3.8 0 0 1 615.2,225.49999999999997Z" style="stroke-width:0.45;stroke:#999"/></g>
<g class="ob" style="stroke-width:2.6"><title>&gt;PA&lt;</title><path d="M524.4,256.4L533.0,263.5L524.4,270.59999999999997" style="stroke-width:2.9"/><path d="M570.2,256.4L561.6,263.5L570.2,270.59999999999997" style="stroke-width:2.9"/><path d="M538.2,271.2V253.0H540.0680000000001A4.732,4.732 0 0 1 540.0680000000001,262.464H538.2" style="stroke-width:2.9"/><path d="M547.2,271.2L552.0,253.0L556.8000000000001,271.2M549.12,265.376H554.88" style="stroke-width:2.9"/></g>
<g class="ow"><path d="M524.4,256.4L533.0,263.5L524.4,270.59999999999997" style="stroke-width:0.45;stroke:#aaa"/><path d="M570.2,256.4L561.6,263.5L570.2,270.59999999999997" style="stroke-width:0.45;stroke:#aaa"/><path d="M538.2,271.2V253.0H540.0680000000001A4.732,4.732 0 0 1 540.0680000000001,262.464H538.2" style="stroke-width:0.45;stroke:#aaa"/><path d="M547.2,271.2L552.0,253.0L556.8000000000001,271.2M549.12,265.376H554.88" style="stroke-width:0.45;stroke:#aaa"/></g>
<path style="stroke:#000;stroke-width:3.3" d="M601.04,253.72A10.2,10.2 0 1 0 601.04,266.28"/>
<circle class="t" style="stroke:#000;stroke-width:1" cx="593.40" cy="260.00" r="7.30"/>
<text x="593.8" y="264.7" font-size="13" font-weight="bold" text-anchor="middle" textLength="12.6" lengthAdjust="spacingAndGlyphs" fill="#111">SA</text>
<text x="612.6" y="272.4" font-size="12.8" font-weight="bold" textLength="6.4" lengthAdjust="spacingAndGlyphs" fill="#fff" stroke="#000" stroke-width="1.7">C</text>
<text x="657.4" y="272.2" font-size="12.8" font-weight="bold" textLength="12.8" lengthAdjust="spacingAndGlyphs" fill="#fff" stroke="#000" stroke-width="1.7">US</text>
<g transform="translate(655.0,272.4) scale(-1,1)"><text x="0" y="0" font-size="29.8" font-weight="bold" font-style="italic" textLength="35.6" lengthAdjust="spacingAndGlyphs" fill="#fff" stroke="#000" stroke-width="2.7" stroke-linejoin="round">UR</text></g>
</g>
<g id="rear-view">
<rect class="k" x="64.90" y="514.80" width="261.40" height="182.40" rx="0"/>
<path class="m" d="M78.1,697.2V732.2H324Q326.3,732.2 326.3,730V697.2" />
<path class="t" d="M78.10,729.80L326.30,729.80"/>
<path class="g" d="M78.10,700.20L326.30,700.20"/>
<path class="k" style="stroke-width:1.3" d="M86.50,514.80L86.50,732.20"/>
<path class="k" style="stroke-width:1.3" d="M146.50,514.80L146.50,732.20"/>
<path class="k" style="stroke-width:1.3" d="M206.50,514.80L206.50,732.20"/>
<path class="k" style="stroke-width:1.3" d="M266.50,514.80L266.50,732.20"/>
<path class="m" d="M138.20,697.20L138.20,732.20"/>
<path class="k wf" d="M93.10,699.2Q93.10,697.2 95.10,697.2H134.70Q136.70,697.2 136.70,699.2V744Q136.70,746 134.70,746H95.10Q93.10,746 93.10,744Z"/>
<path class="g" d="M94.10,700.80L135.70,700.80"/>
<path class="k" style="stroke-width:1.5" d="M93.10,703.20L136.70,703.20"/>
<path class="t" d="M96.20,703.20L96.20,734.60"/>
<path class="t" d="M134.90,703.20L134.90,744.00"/>
<path class="g" d="M133.10,703.20L133.10,734.60"/>
<path class="g" d="M96.20,733.00L134.90,733.00"/>
<path class="k" style="stroke-width:1.5" d="M93.10,737L95.50,734.6H136.70" />
<path class="t" d="M151.80,697.20L151.80,732.20"/>
<path class="m" d="M198.20,697.20L198.20,732.20"/>
<path class="k wf" d="M153.10,699.2Q153.10,697.2 155.10,697.2H194.70Q196.70,697.2 196.70,699.2V744Q196.70,746 194.70,746H155.10Q153.10,746 153.10,744Z"/>
<path class="g" d="M154.10,700.80L195.70,700.80"/>
<path class="k" style="stroke-width:1.5" d="M153.10,703.20L196.70,703.20"/>
<path class="t" d="M156.20,703.20L156.20,734.60"/>
<path class="t" d="M194.90,703.20L194.90,744.00"/>
<path class="g" d="M193.10,703.20L193.10,734.60"/>
<path class="g" d="M156.20,733.00L194.90,733.00"/>
<path class="k" style="stroke-width:1.5" d="M153.10,737L155.50,734.6H196.70" />
<path class="t" d="M211.80,697.20L211.80,732.20"/>
<path class="m" d="M258.20,697.20L258.20,732.20"/>
<path class="k wf" d="M213.10,699.2Q213.10,697.2 215.10,697.2H254.70Q256.70,697.2 256.70,699.2V744Q256.70,746 254.70,746H215.10Q213.10,746 213.10,744Z"/>
<path class="g" d="M214.10,700.80L255.70,700.80"/>
<path class="k" style="stroke-width:1.5" d="M213.10,703.20L256.70,703.20"/>
<path class="t" d="M216.20,703.20L216.20,734.60"/>
<path class="t" d="M254.90,703.20L254.90,744.00"/>
<path class="g" d="M253.10,703.20L253.10,734.60"/>
<path class="g" d="M216.20,733.00L254.90,733.00"/>
<path class="k" style="stroke-width:1.5" d="M213.10,737L215.50,734.6H256.70" />
<path class="t" d="M271.80,697.20L271.80,732.20"/>
<path class="k wf" d="M273.10,699.2Q273.10,697.2 275.10,697.2H314.70Q316.70,697.2 316.70,699.2V744Q316.70,746 314.70,746H275.10Q273.10,746 273.10,744Z"/>
<path class="g" d="M274.10,700.80L315.70,700.80"/>
<path class="k" style="stroke-width:1.5" d="M273.10,703.20L316.70,703.20"/>
<path class="t" d="M276.20,703.20L276.20,734.60"/>
<path class="t" d="M314.90,703.20L314.90,744.00"/>
<path class="g" d="M313.10,703.20L313.10,734.60"/>
<path class="g" d="M276.20,733.00L314.90,733.00"/>
<path class="k" style="stroke-width:1.5" d="M273.10,737L275.50,734.6H316.70" />
<path class="m" d="M326.3,526.8H336V534.2H335V613H336V637.8H326.3" />
<path class="g" d="M326.30,528.60L336.00,528.60"/>
<path class="t" d="M326.30,534.20L335.00,534.20"/>
<path class="t" d="M326.30,613.00L336.00,613.00"/>
<path class="g" d="M326.30,615.30L336.00,615.30"/>
<path class="g" d="M326.30,635.30L336.00,635.30"/>
<path class="m" d="M326.3,645H336V668.8H326.3" />
<path class="g" d="M326.30,646.80L336.00,646.80"/>
<path class="g" d="M326.30,667.00L336.00,667.00"/>
</g>
<g id="hole-pattern">
<rect class="dot" x="469.30" y="507.50" width="271.70" height="230.00" rx="0"/>
<circle class="k" style="stroke-width:1.7" cx="494.60" cy="547.50" r="6.70"/>
<path class="t" style="stroke-width:1.2" d="M485.60,547.50L487.20,547.50"/>
<path class="t" style="stroke-width:1.2" d="M494.60,538.50L494.60,540.10"/>
<path class="t" style="stroke-width:1.2" d="M502.00,547.50L503.60,547.50"/>
<path class="t" style="stroke-width:1.2" d="M494.60,554.90L494.60,556.50"/>
<path class="t" style="stroke-width:0.7" d="M492.60,547.50L496.60,547.50"/>
<path class="t" style="stroke-width:0.7" d="M494.60,545.50L494.60,549.50"/>
<circle class="k" style="stroke-width:1.7" cx="554.53" cy="547.50" r="6.70"/>
<path class="t" style="stroke-width:1.2" d="M545.53,547.50L547.13,547.50"/>
<path class="t" style="stroke-width:1.2" d="M554.53,538.50L554.53,540.10"/>
<path class="t" style="stroke-width:1.2" d="M561.93,547.50L563.53,547.50"/>
<path class="t" style="stroke-width:1.2" d="M554.53,554.90L554.53,556.50"/>
<path class="t" style="stroke-width:0.7" d="M552.53,547.50L556.53,547.50"/>
<path class="t" style="stroke-width:0.7" d="M554.53,545.50L554.53,549.50"/>
<circle class="k" style="stroke-width:1.7" cx="614.46" cy="547.50" r="6.70"/>
<path class="t" style="stroke-width:1.2" d="M605.46,547.50L607.06,547.50"/>
<path class="t" style="stroke-width:1.2" d="M614.46,538.50L614.46,540.10"/>
<path class="t" style="stroke-width:1.2" d="M621.86,547.50L623.46,547.50"/>
<path class="t" style="stroke-width:1.2" d="M614.46,554.90L614.46,556.50"/>
<path class="t" style="stroke-width:0.7" d="M612.46,547.50L616.46,547.50"/>
<path class="t" style="stroke-width:0.7" d="M614.46,545.50L614.46,549.50"/>
<circle class="k" style="stroke-width:1.7" cx="674.39" cy="547.50" r="6.70"/>
<path class="t" style="stroke-width:1.2" d="M665.39,547.50L666.99,547.50"/>
<path class="t" style="stroke-width:1.2" d="M674.39,538.50L674.39,540.10"/>
<path class="t" style="stroke-width:1.2" d="M681.79,547.50L683.39,547.50"/>
<path class="t" style="stroke-width:1.2" d="M674.39,554.90L674.39,556.50"/>
<path class="t" style="stroke-width:0.7" d="M672.39,547.50L676.39,547.50"/>
<path class="t" style="stroke-width:0.7" d="M674.39,545.50L674.39,549.50"/>
<circle class="k" style="stroke-width:1.7" cx="494.60" cy="645.50" r="6.70"/>
<path class="t" style="stroke-width:1.2" d="M485.60,645.50L487.20,645.50"/>
<path class="t" style="stroke-width:1.2" d="M494.60,636.50L494.60,638.10"/>
<path class="t" style="stroke-width:1.2" d="M502.00,645.50L503.60,645.50"/>
<path class="t" style="stroke-width:1.2" d="M494.60,652.90L494.60,654.50"/>
<path class="t" style="stroke-width:0.7" d="M492.60,645.50L496.60,645.50"/>
<path class="t" style="stroke-width:0.7" d="M494.60,643.50L494.60,647.50"/>
<circle class="k" style="stroke-width:1.7" cx="554.53" cy="645.50" r="6.70"/>
<path class="t" style="stroke-width:1.2" d="M545.53,645.50L547.13,645.50"/>
<path class="t" style="stroke-width:1.2" d="M554.53,636.50L554.53,638.10"/>
<path class="t" style="stroke-width:1.2" d="M561.93,645.50L563.53,645.50"/>
<path class="t" style="stroke-width:1.2" d="M554.53,652.90L554.53,654.50"/>
<path class="t" style="stroke-width:0.7" d="M552.53,645.50L556.53,645.50"/>
<path class="t" style="stroke-width:0.7" d="M554.53,643.50L554.53,647.50"/>
<circle class="k" style="stroke-width:1.7" cx="614.46" cy="645.50" r="6.70"/>
<path class="t" style="stroke-width:1.2" d="M605.46,645.50L607.06,645.50"/>
<path class="t" style="stroke-width:1.2" d="M614.46,636.50L614.46,638.10"/>
<path class="t" style="stroke-width:1.2" d="M621.86,645.50L623.46,645.50"/>
<path class="t" style="stroke-width:1.2" d="M614.46,652.90L614.46,654.50"/>
<path class="t" style="stroke-width:0.7" d="M612.46,645.50L616.46,645.50"/>
<path class="t" style="stroke-width:0.7" d="M614.46,643.50L614.46,647.50"/>
<circle class="k" style="stroke-width:1.7" cx="674.39" cy="645.50" r="6.70"/>
<path class="t" style="stroke-width:1.2" d="M665.39,645.50L666.99,645.50"/>
<path class="t" style="stroke-width:1.2" d="M674.39,636.50L674.39,638.10"/>
<path class="t" style="stroke-width:1.2" d="M681.79,645.50L683.39,645.50"/>
<path class="t" style="stroke-width:1.2" d="M674.39,652.90L674.39,654.50"/>
<path class="t" style="stroke-width:0.7" d="M672.39,645.50L676.39,645.50"/>
<path class="t" style="stroke-width:0.7" d="M674.39,643.50L674.39,647.50"/>
<path class="d" d="M410.20,547.50L487.20,547.50"/>
<path class="d" d="M410.20,645.50L487.20,645.50"/>
<path class="d" d="M417.50,547.50L417.50,645.50"/>
<path class="ar" d="M417.50,547.50L419.60,555.00L415.40,555.00Z"/>
<path class="ar" d="M417.50,645.50L415.40,638.00L419.60,638.00Z"/>
<g class="tx" transform="translate(394.10,618.00) rotate(-90.00)"><title>8.2</title>
<path transform="translate(0.00,0)" d="M3.6,0H8.4Q11.5,0 11.5,3V6.6Q11.5,9.6 8.4,9.6H3.6Q0.5,9.6 0.5,6.6V3Q0.5,0 3.6,0ZM3.4,9.6H8.6Q12,9.6 12,12.9V17.2Q12,20.5 8.6,20.5H3.4Q0,20.5 0,17.2V12.9Q0,9.6 3.4,9.6Z"/>
<path transform="translate(15.60,0)" d="M3,17.6h3.1v2.9h-3.1z"/>
<path transform="translate(31.20,0)" d="M0,3Q0.3,0 3.2,0H8.8Q12,0 12,3.2V6.5Q12,8.3 10.6,9.6L0,20.5H12"/>
</g>
<g class="tx" transform="translate(421.50,640.60) rotate(-90.00)"><title>0.323&quot;</title>
<path transform="translate(0.00,0)" d="M3.5,0H8.5Q12,0 12,3.5V17Q12,20.5 8.5,20.5H3.5Q0,20.5 0,17V3.5Q0,0 3.5,0Z"/>
<path transform="translate(15.60,0)" d="M3,17.6h3.1v2.9h-3.1z"/>
<path transform="translate(31.20,0)" d="M0,2.6Q0.3,0 3,0H8.8Q12,0 12,3V6.8Q12,9.8 8.8,9.8H4.5M8.8,9.8Q12,9.8 12,13V17.3Q12,20.5 8.8,20.5H3Q0.3,20.5 0,17.9"/>
<path transform="translate(46.80,0)" d="M0,3Q0.3,0 3.2,0H8.8Q12,0 12,3.2V6.5Q12,8.3 10.6,9.6L0,20.5H12"/>
<path transform="translate(62.40,0)" d="M0,2.6Q0.3,0 3,0H8.8Q12,0 12,3V6.8Q12,9.8 8.8,9.8H4.5M8.8,9.8Q12,9.8 12,13V17.3Q12,20.5 8.8,20.5H3Q0.3,20.5 0,17.9"/>
<path transform="translate(78.00,0)" d="M2.4,0L0.7,5.2M7.5,0L5.8,5.2"/>
</g>
<path class="d" d="M647.00,542.60L763.60,561.40"/>
<path class="ar" d="M666.89,546.29L659.66,547.15L660.29,543.20Z"/>
<path class="ar" d="M681.89,548.71L689.12,547.85L688.49,551.80Z"/>
<g class="tx" transform="translate(758.0,532.0) rotate(9.16)"><title>D</title><path d="M0,0V20.5H6.4Q10.6,20.5 10.6,16.4V4.1Q10.6,0 6.4,0Z"/></g>
<g fill="#111" stroke="#111" stroke-width="0.35" font-size="27.4"><text x="473.6" y="771.9" textLength="56.6" lengthAdjust="spacingAndGlyphs">HOLE</text><text x="541.0" y="771.9" textLength="95.4" lengthAdjust="spacingAndGlyphs">PATTERN</text></g>
</g>
</svg>
</body></html>
